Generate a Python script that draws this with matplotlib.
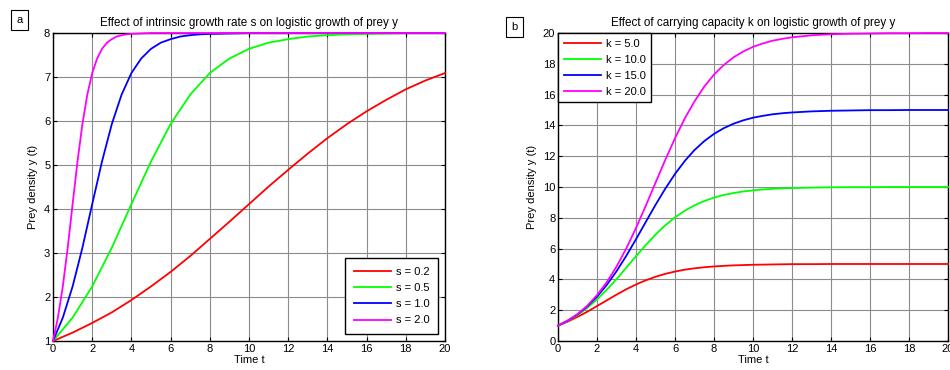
import numpy as np
import matplotlib
matplotlib.use("Agg")
import matplotlib.pyplot as plt

plt.rcParams["font.family"] = ["Liberation Sans", "DejaVu Sans"]

# --- panel a: growth rate s (k = 8) ---
t_red = [0, 1, 2, 3, 4, 5, 6, 7, 8, 9, 10, 11, 12, 13, 14, 15, 16, 17, 18, 19, 20]
y_red = [1.00, 1.19, 1.41, 1.65, 1.93, 2.24, 2.57, 2.93, 3.32, 3.71, 4.11,
         4.51, 4.89, 5.26, 5.61, 5.93, 6.22, 6.48, 6.72, 6.92, 7.09]
t_green = [0, 1, 2, 3, 4, 5, 6, 7, 8, 9, 10, 11, 12, 13, 14, 15, 16, 17, 18, 19, 20]
y_green = [1.00, 1.53, 2.24, 3.12, 4.11, 5.08, 5.93, 6.60, 7.09, 7.42, 7.64,
           7.78, 7.86, 7.92, 7.95, 7.97, 7.98, 7.99, 8.00, 8.00, 8.00]
t_blue = [0, 0.5, 1, 1.5, 2, 2.5, 3, 3.5, 4, 4.5, 5, 5.5, 6, 6.5, 7, 7.5, 8, 10, 20]
y_blue = [1.00, 1.53, 2.24, 3.12, 4.11, 5.08, 5.93, 6.60, 7.09, 7.42, 7.64,
          7.78, 7.86, 7.92, 7.95, 7.97, 7.98, 8.00, 8.00]
t_mag = [0, 0.25, 0.5, 0.75, 1, 1.25, 1.5, 1.75, 2, 2.25, 2.5, 2.75, 3, 3.25,
         3.5, 3.75, 4, 5, 20]
y_mag = [1.00, 1.53, 2.24, 3.12, 4.11, 5.08, 5.93, 6.60, 7.09, 7.42, 7.64,
         7.78, 7.86, 7.92, 7.95, 7.97, 7.98, 8.00, 8.00]
s_labels = ["s = 0.2", "s = 0.5", "s = 1.0", "s = 2.0"]

# --- panel b: carrying capacity k ---
t_k = [0, 0.5, 1, 1.5, 2, 2.5, 3, 3.5, 4, 4.5, 5, 5.5, 6, 6.5, 7, 7.5, 8, 8.5,
       9, 9.5, 10, 10.5, 11, 11.5, 12, 13, 14, 15, 16, 17, 18, 19, 20]
y_k5 = [1.00, 1.26, 1.57, 1.90, 2.27, 2.64, 3.01, 3.36, 3.67, 3.94, 4.17, 4.36,
        4.51, 4.63, 4.72, 4.79, 4.84, 4.88, 4.91, 4.93, 4.95, 4.96, 4.97, 4.98,
        4.99, 4.99, 5.00, 5.00, 5.00, 5.00, 5.00, 5.00, 5.00]
y_k10 = [1.00, 1.30, 1.68, 2.15, 2.70, 3.33, 4.02, 4.76, 5.51, 6.23, 6.91, 7.51,
         8.03, 8.46, 8.81, 9.09, 9.31, 9.48, 9.61, 9.71, 9.78, 9.84, 9.88, 9.91,
         9.93, 9.96, 9.98, 9.99, 9.99, 10.00, 10.00, 10.00, 10.00]
y_k15 = [1.00, 1.32, 1.73, 2.24, 2.88, 3.64, 4.53, 5.53, 6.61, 7.73, 8.84, 9.89,
         10.85, 11.69, 12.40, 12.98, 13.45, 13.82, 14.11, 14.33, 14.50, 14.62,
         14.72, 14.79, 14.84, 14.91, 14.95, 14.97, 14.99, 14.99, 15.00, 15.00, 15.00]
y_k20 = [1.00, 1.33, 1.75, 2.29, 2.98, 3.82, 4.83, 6.01, 7.34, 8.78, 10.28, 11.76,
         13.17, 14.45, 15.56, 16.52, 17.30, 17.92, 18.42, 18.80, 19.10, 19.32,
         19.50, 19.62, 19.72, 19.85, 19.92, 19.95, 19.97, 19.99, 19.99, 20.00, 20.00]
k_labels = ["k = 5.0", "k = 10.0", "k = 15.0", "k = 20.0"]

colors = ["#ff0000", "#00ff00", "#0000ff", "#ff00ff"]


def style_axes(ax):
    ax.tick_params(direction="in", top=True, right=True, labelsize=8,
                   length=3, width=0.8, pad=2)
    ax.grid(True, color="#8c8c8c", linewidth=0.8)
    ax.set_axisbelow(True)
    for sp in ax.spines.values():
        sp.set_linewidth(1.0)


fig = plt.figure(figsize=(9.5, 3.7), dpi=100)
ax1 = fig.add_axes([0.0558, 0.0784, 0.4126, 0.8324])
ax2 = fig.add_axes([0.5874, 0.0784, 0.4105, 0.8324])

# panel a
for t, y, c, lab in zip([t_red, t_green, t_blue, t_mag],
                        [y_red, y_green, y_blue, y_mag], colors, s_labels):
    ax1.plot(t, y, color=c, lw=1.3, label=lab, clip_on=False, zorder=3)
ax1.set_xlim(0, 20)
ax1.set_ylim(1, 8)
ax1.set_xticks(np.arange(0, 21, 2))
ax1.set_yticks(np.arange(1, 9, 1))
style_axes(ax1)
ax1.set_title("Effect of intrinsic growth rate s on logistic growth of prey y",
              fontsize=8.4, pad=5)
ax1.set_xlabel("Time t", fontsize=8, labelpad=1)
ax1.set_ylabel("Prey density y (t)", fontsize=8, labelpad=4)
leg1 = ax1.legend(loc="lower right", fontsize=8, fancybox=False,
                  edgecolor="black", framealpha=1, handlelength=3.4,
                  handletextpad=0.4, borderpad=0.8, borderaxespad=0.6,
                  labelspacing=0.55)
leg1.get_frame().set_linewidth(1.0)

# panel b
for y, c, lab in zip([y_k5, y_k10, y_k15, y_k20], colors, k_labels):
    ax2.plot(t_k, y, color=c, lw=1.3, label=lab, clip_on=False, zorder=3)
ax2.set_xlim(0, 20)
ax2.set_ylim(0, 20)
ax2.set_xticks(np.arange(0, 21, 2))
ax2.set_yticks(np.arange(0, 21, 2))
style_axes(ax2)
ax2.set_title("Effect of carrying capacity k on logistic growth of prey y",
              fontsize=8.4, pad=5)
ax2.set_xlabel("Time t", fontsize=8, labelpad=1)
ax2.set_ylabel("Prey density y (t)", fontsize=8, labelpad=4)
leg2 = ax2.legend(loc="upper left", fontsize=8, fancybox=False,
                  edgecolor="black", framealpha=1, handlelength=3.4,
                  handletextpad=0.4, borderpad=0.5, borderaxespad=0.0,
                  labelspacing=0.55)
leg2.get_frame().set_linewidth(1.0)

# panel letters
for x, y, s in [(0.0205, 0.947, "a"), (0.5415, 0.927, "b")]:
    fig.text(x, y, s, fontsize=8, ha="center", va="center",
             bbox=dict(boxstyle="square,pad=0.45", fc="white", ec="black", lw=0.8))

fig.savefig("out.png", dpi=100)
